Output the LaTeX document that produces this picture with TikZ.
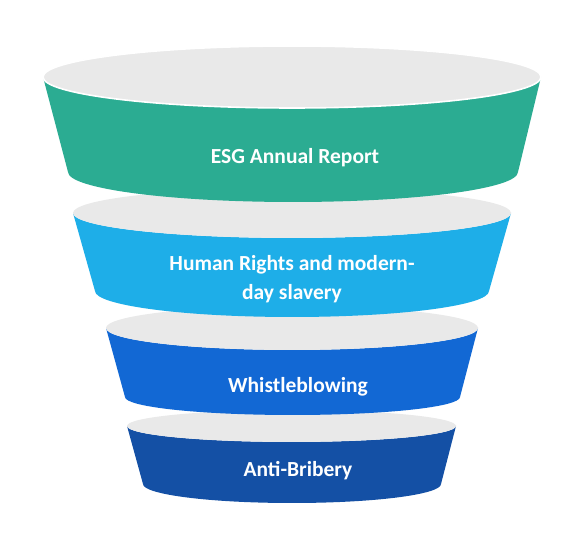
\documentclass[tikz,border=0pt]{standalone}
\usepackage{fontspec}
\setmainfont{Carlito}
\definecolor{tgreen}{RGB}{43,172,146}
\definecolor{tlblue}{RGB}{30,174,232}
\definecolor{tmblue}{RGB}{18,104,212}
\definecolor{tnavy}{RGB}{20,80,165}
\definecolor{tgrey}{RGB}{233,233,233}
\tikzset{
  lbl/.style={text=white, font=\bfseries\fontsize{21.5}{29}\selectfont, align=center, inner sep=0pt},
  rim/.style={fill=tgrey},
}
% #1 cx top, #2 cy top, #3 rx top, #4 ry top, #5 cx bot, #6 cy bot, #7 rx bot, #8 ry bot, #9 colour
\newcommand{\tierband}[9]{%
  \fill[#9] ({#1-#3},#2) -- ({#5-#7},#6)
    arc[start angle=180, end angle=360, x radius=#7, y radius=#8]
    -- ({#1+#3},#2)
    arc[start angle=0, end angle=-180, x radius=#3, y radius=#4] -- cycle;
  \fill[rim] (#1,#2) ellipse[x radius=#3, y radius=#4];
}
\begin{document}
\begin{tikzpicture}[x=1pt,y=1pt]
\useasboundingbox (0,0) rectangle (588,534);
\fill[white] (0,0) rectangle (588,534);
% tier 4
\tierband{291.5}{108}{164.5}{16}{292}{50}{149}{19}{tnavy}
% tier 3
\tierband{292}{206}{186}{22}{292.5}{137}{167.5}{18}{tmblue}
% tier 2
\tierband{292}{321}{219}{25}{292}{243}{197}{26}{tlblue}
% tier 1
\tierband{292}{457}{249}{31}{293}{362}{225}{30}{tgreen}
\draw[white, line width=1.6pt] (292,457) ellipse[x radius=249, y radius=31];
\node[lbl] (t1) at (295,376) {ESG Annual Report};
\node[lbl] (t2) at (292,255) {Human Rights and modern-\\day slavery};
\node[lbl] (t3) at (298,147) {Whistleblowing};
\node[lbl] (t4) at (298,63) {Anti-Bribery};
\end{tikzpicture}
\end{document}
